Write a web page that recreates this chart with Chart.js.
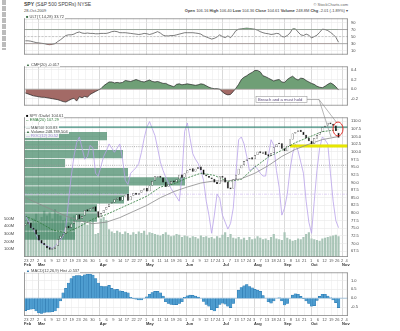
<!DOCTYPE html>
<html>
<head>
<meta charset="utf-8">
<script src="https://cdn.jsdelivr.net/npm/chart.js@4.4.0/dist/chart.umd.min.js"></script>
<style>
  body { margin: 0; width: 400px; height: 331px; position: relative; overflow: hidden; background: #fff;
         font-family: "Liberation Sans", Arial, sans-serif; color: #333; }
  canvas { position: absolute; left: 0; }
  .t { position: absolute; white-space: nowrap; font-size: 4px; line-height: 5px; color: #444; }
  .lg { background: rgba(255,255,255,0.85); padding: 0 1px; }
</style>
</head>
<body>

<div style="position:absolute;left:2px;top:0;width:4px;height:50px;background:repeating-linear-gradient(#bbb 0 5px,#fff 5px 6px)"></div>

<div class="t" style="left:24px;top:2px;font-size:5px"><b>SPY</b> (S&amp;P 500 SPDRs) NYSE</div>
<div class="t" style="left:24px;top:8px">28-Oct-2009</div>
<div class="t" style="right:52px;top:2px;color:#666">© StockCharts.com</div>
<div class="t" style="right:52px;top:8px"><b>Open</b> 106.16 <b>High</b> 106.40 <b>Low</b> 104.36 <b>Close</b> 104.61 <b>Volume</b> 248.8M <b>Chg</b> -2.01 (-1.89%) ▾</div>

<canvas id="ult" width="400" height="47" style="top:13px"></canvas>
<canvas id="cmf" width="400" height="50" style="top:61px"></canvas>
<canvas id="price" width="400" height="155" style="top:112px"></canvas>
<canvas id="macd" width="400" height="59" style="top:267px"></canvas>

<div class="t lg" style="left:25px;top:14px"><span style="color:#3a6e44">■</span> ULT(7,14,28) 33.72</div>
<div class="t lg" style="left:25px;top:62px"><span style="color:#3a6e44">▲</span> CMF(20) -0.017</div>
<div class="t lg" style="left:25px;top:113px"><span style="color:#000">■</span> SPY (Daily) 104.61</div>
<div class="t lg" style="left:25px;top:117px;color:#2d7a3a">-- EMA(20) 107.29</div>
<div class="t lg" style="left:25px;top:125px;color:#555">— MA(50) 103.83</div>
<div class="t lg" style="left:25px;top:129px"><span style="color:#3a6e44">▲</span> Volume 248,789,504</div>
<div class="t lg" style="left:25px;top:133px;color:#9b7fd6">— ROC(12) 20.52</div>
<div class="t lg" style="left:25px;top:268px"><span style="color:#2874ac">▲</span> MACD(12,26,9) Hist -0.537</div>

<svg style="position:absolute;left:0;top:0;z-index:5" width="400" height="331">
  <rect x="256" y="96.5" width="51" height="6" fill="#fff" stroke="#999" stroke-width="0.6"/>
  <text x="258" y="101.3" font-size="4.2" font-family="Liberation Sans, Arial" fill="#5a4a7a">Breach and a must hold</text>
  <polyline points="307,99.5 319,99.5 337,123" fill="none" stroke="#888" stroke-width="0.6"/>
  <line x1="319" y1="99.5" x2="331" y2="137" stroke="#888" stroke-width="0.6"/>
  <ellipse cx="338" cy="129" rx="5" ry="7" fill="none" stroke="#e0201a" stroke-width="0.9"/>
</svg>

<script>
// x axis: one slot per bar, labels below the price and MACD panels
const dayTicks = [[0.3,'23'],[2.5,'27'],[4.7,'2'],[7.2,'6'],[9.7,'9'],[12.2,'12'],[14.7,'17'],[17.2,'19'],[19.7,'23'],[22.2,'26'],[24.9,'30'],
  [27.6,'1'],[30.1,'6'],[32.6,'9'],[35.1,'14'],[37.6,'17'],[40.1,'22'],[42.4,'27'],
  [44.7,'1'],[47.2,'6'],[49.7,'11'],[52.2,'14'],[54.7,'19'],[57.1,'26'],
  [59.5,'1'],[62,'4'],[64.5,'9'],[67,'12'],[69.4,'17'],[71.4,'24'],
  [73.2,'1'],[75.7,'7'],[78.2,'13'],[80.6,'17'],[82.8,'24'],
  [84.7,'3'],[87.1,'7'],[89.5,'13'],[91.9,'18'],[94,'24'],
  [95.8,'1'],[98.3,'8'],[100.8,'14'],[103.3,'21'],
  [105.8,'1'],[108.3,'6'],[110.8,'12'],[113.3,'19'],[115.5,'26'],[117.3,'2'],[119,'4']];
const monthTicks = [[-0.5,'Feb'],[4.7,'Mar'],[27.6,'Apr'],[44.7,'May'],[59.5,'Jun'],[73.2,'Jul'],[84.7,'Aug'],[95.8,'Sep'],[105.8,'Oct'],[117.3,'Nov']];

// price candles
const opens = [75.8,76.4,76.8,75.2,74.6,72.8,71.2,70.2,69.3,68.8,
  68.0,68.3,69.2,71.6,72.4,73.2,75.8,75.2,76.6,77.6,
  79.6,78.2,79.2,81.2,80.6,81.4,82.2,80.6,78.6,80.0,
  81.1,82.0,83.1,83.4,84.4,85.2,84.1,85.4,86.2,84.2,
  85.6,86.6,86.0,86.6,87.4,88.2,87.1,89.0,90.6,91.6,
  92.2,91.6,90.2,88.6,89.4,90.6,90.1,91.0,92.6,91.6,
  93.0,94.0,94.6,93.6,94.4,95.2,94.2,92.6,92.1,91.6,
  91.2,90.1,89.6,92.1,91.6,90.2,88.3,88.0,91.0,92.6,
  94.6,95.6,97.0,97.6,98.2,97.6,99.0,100.2,99.4,100.2,
  99.2,98.6,99.6,101.6,102.6,102.8,101.2,100.2,102.0,104.0,
  106.0,106.6,107.2,106.6,105.6,104.6,103.6,102.6,104.4,105.6,
  106.6,108.0,108.6,109.6,109.2,108.6,106.2];
const closes = [76.5,77.0,75.0,74.5,73.0,71.0,70.0,69.5,68.5,68.0,
  68.5,69.0,71.5,72.5,73.0,75.5,75.0,76.5,77.5,79.5,
  78.0,79.0,81.0,80.5,81.5,82.0,80.5,78.5,80.0,81.0,
  82.0,83.0,83.5,84.5,85.0,84.0,85.5,86.0,84.0,85.5,
  86.5,86.0,86.5,87.5,88.0,87.0,89.0,90.5,92.0,92.0,
  91.5,90.0,88.5,89.5,90.5,90.0,91.0,92.5,91.5,93.0,
  94.0,94.5,93.5,94.5,95.0,94.0,92.5,92.0,91.5,91.0,
  90.0,89.5,92.0,91.5,90.0,88.0,87.8,91.0,92.5,94.5,
  95.5,97.0,97.5,98.0,97.5,99.0,100.0,99.5,100.0,99.0,
  98.5,99.5,101.5,102.5,103.0,101.0,100.2,102.0,104.0,106.0,
  106.5,107.0,106.5,105.5,104.5,103.5,102.5,104.5,105.5,106.5,
  108.0,108.5,109.5,109.0,108.5,106.8,104.6];
// volume, millions of shares
const volumes = [480,520,450,500,560,470,520,600,540,580,
  500,620,560,540,480,500,460,520,540,470,
  500,440,470,420,450,480,300,310,500,520,
  480,360,330,310,340,320,300,330,310,290,
  320,300,330,310,340,290,320,310,300,290,
  280,300,320,290,270,280,300,290,260,280,
  270,250,270,260,240,280,260,270,250,260,
  240,270,250,290,320,260,300,250,240,260,
  230,250,220,260,230,240,270,250,230,240,
  220,260,300,240,230,220,320,250,230,210,
  220,240,230,260,300,320,240,230,220,210,
  240,250,260,270,280,290,270];
// moving averages, read every few bars
const avgSlots = [0,5,10,15,20,25,30,35,40,45,50,55,60,65,70,75,80,85,90,95,100,105,110,116];
const ema20 = [79,77,74.5,73.5,75.5,78,79.5,81.5,83.5,85.5,88.5,89.5,91.5,93,92.3,90.3,91,95,98.3,100.5,103,104.8,106.6,107.3];
const ma50 = [85,83,81,79,77.5,76.5,77,78.5,80.5,82.5,85,87,88.5,89.8,90.5,90.5,91.2,93,95.5,98.5,100.8,102.5,104,105];
// purple oscillator (own scale, 0-100 of the panel height)
const rocValues = [30,26,22,20,16,12,10,9,8,7,
  6,8,10,12,15,22,40,58,72,82,
  86,78,70,72,80,78,60,58,65,72,
  76,81,78,75,78,81,70,55,52,60,
  62,64,67,75,85,93,97,92,87,78,
  68,62,57,53,49,46,43,40,58,90,
  96,85,74,70,67,62,55,40,30,17,
  30,45,42,30,25,20,24,35,60,84,
  86,81,72,62,63,65,63,60,58,58,
  72,84,80,62,50,30,35,45,62,74,
  81,76,68,60,40,25,17,40,62,78,
  86,84,81,60,40,26,21];
// volume by price
const vbpPrices = [108.5,104.95,101.4,97.85,94.3,90.75,87.2,83.65,80.1,76.55,73.0,69.45];
const vbpVolumes = [8.3,7.4,9.9,4.1,10.4,16.1,10.5,10.0,7.3,7.3,5.1,5.1];
// indicators
const ultValues = [38,38,37,35,33,32,31,30,28,27,
  28,30,36,41,47,53,55,55,57,61,
  63,60,59,60,59,59,58,58,59,59,
  59,61,64,65,64,61,61,61,60,59,
  58,57,56,57,59,58,56,58,61,64,
  60,54,52,52,53,53,55,57,59,61,
  61,61,61,60,59,57,52,49,46,43,
  45,49,55,50,47,52,47,56,67,71,
  72,73,74,73,72,71,68,64,61,59,
  58,56,57,59,58,50,49,53,60,72,
  72,63,55,53,57,54,46,50,54,62,
  71,70,67,62,56,48,34];
const cmfValues = [-0.08,-0.10,-0.12,-0.14,-0.15,-0.16,-0.17,-0.17,-0.18,-0.19,
  -0.20,-0.21,-0.22,-0.24,-0.26,-0.27,-0.24,-0.21,-0.19,-0.25,
  -0.16,-0.18,-0.15,-0.17,-0.11,-0.08,-0.05,-0.02,0.01,0.07,
  0.11,0.15,0.15,0.13,0.14,0.13,0.14,0.18,0.17,0.16,
  0.18,0.20,0.18,0.16,0.15,0.17,0.19,0.16,0.15,0.16,
  0.14,0.12,0.12,0.09,0.07,0.05,0.10,0.11,0.09,0.10,
  0.11,0.10,0.09,0.08,0.09,0.11,0.10,0.07,0.04,0.02,
  0.01,0.01,0.00,-0.06,-0.10,-0.12,-0.11,-0.05,0.02,0.10,
  0.20,0.25,0.28,0.32,0.35,0.39,0.39,0.36,0.28,0.26,
  0.23,0.20,0.17,0.19,0.20,0.15,0.14,0.20,0.24,0.27,
  0.22,0.19,0.23,0.22,0.18,0.15,0.12,0.10,0.06,0.04,
  0.03,0.06,0.10,0.13,0.10,0.05,-0.02];
const macdHist = [-0.70,-0.65,-0.62,-0.60,-0.72,-0.82,-0.85,-0.80,-0.78,-0.78,
  -0.76,-0.72,-0.55,-0.15,0.30,0.55,0.85,1.10,1.25,1.27,
  1.27,1.25,1.32,1.35,1.35,1.30,1.10,0.85,0.68,0.65,
  0.66,0.72,0.55,0.48,0.50,0.42,0.38,0.35,0.30,0.05,
  -0.02,-0.06,-0.10,-0.10,0.00,0.08,0.22,0.32,0.38,0.38,
  0.30,0.12,-0.20,-0.30,-0.35,-0.37,-0.36,-0.30,-0.20,0.05,
  0.14,0.17,0.16,0.12,0.06,0.00,-0.18,-0.35,-0.45,-0.65,
  -0.72,-0.53,-0.35,-0.28,-0.33,-0.45,-0.53,-0.30,0.00,0.45,
  0.60,0.70,0.77,0.65,0.58,0.50,0.45,0.38,0.15,0.00,
  -0.20,-0.28,-0.15,0.00,0.02,-0.15,-0.38,-0.30,0.00,0.17,
  0.25,0.22,0.10,-0.02,-0.15,-0.30,-0.45,-0.42,-0.12,0.10,
  0.22,0.22,0.12,0.02,-0.10,-0.25,-0.53];

const ultTicks = [90, 70, 50, 30, 10];
const cmfTicks = [0.4, 0.3, 0.2, 0.1, 0, -0.1, -0.2, -0.3];
const priceTicks = [110, 107.5, 105, 102.5, 100, 97.5, 95, 92.5, 90, 87.5, 85, 82.5, 80, 77.5, 75, 72.5, 70, 67.5];
const volTicks = [100, 200, 300, 400, 500];
const macdTicks = [1, 0.5, 0, -0.5];

const slots = closes.map((_, i) => i);
const xMin = -0.5, xMax = 119.5;
const tickFont = { family: 'Liberation Sans, Arial, sans-serif', size: 4 };
const GREEN = '#6f9f76', RED = '#a36a66';

// grey frame round each panel
Chart.register({
  id: 'frame',
  afterDraw(c) {
    const a = c.chartArea, g = c.ctx;
    g.save();
    g.strokeStyle = '#8a8a8a';
    g.lineWidth = 0.8;
    g.strokeRect(a.left + 0.4, a.top + 0.4, a.right - a.left - 0.8, a.bottom - a.top - 0.8);
    g.restore();
  }
});

function flat(v, from = xMin, to = xMax) {
  return [{ x: from, y: v }, { x: to, y: v }];
}

function xScales(showLabels) {
  return {
    x: {
      type: 'linear', position: 'bottom', min: xMin, max: xMax, offset: false,
      afterBuildTicks: s => { s.ticks = dayTicks.map(t => ({ value: t[0] })); },
      afterFit: s => { s.height = showLabels ? 5 : 0; },
      ticks: { display: showLabels, autoSkip: false, maxRotation: 0, padding: 1, font: tickFont, color: '#555',
               callback: (v, i) => dayTicks[i][1] },
      grid: { color: '#ededed', lineWidth: 0.6, drawTicks: false, offset: false },
      border: { display: false }
    },
    xm: {
      type: 'linear', position: 'bottom', min: xMin, max: xMax, offset: false,
      afterBuildTicks: s => { s.ticks = monthTicks.map(t => ({ value: t[0] })); },
      afterFit: s => { s.height = showLabels ? 5 : 0; },
      ticks: { display: showLabels, autoSkip: false, maxRotation: 0, padding: 0.5, align: 'start',
               font: { ...tickFont, weight: 'bold' }, color: '#333', callback: (v, i) => monthTicks[i][1] },
      grid: { color: '#d0d0d0', lineWidth: 0.7, drawTicks: false, offset: false },
      border: { display: false }
    }
  };
}

function rightAxis(min, max, ticks, fmt) {
  return {
    type: 'linear', position: 'right', min, max,
    afterBuildTicks: s => { s.ticks = ticks.map(v => ({ value: v })); },
    afterFit: s => { s.width = 52; },
    ticks: { font: tickFont, color: '#444', padding: 3, callback: fmt },
    grid: { color: '#e8e8e8', lineWidth: 0.6, drawTicks: false },
    border: { display: false }
  };
}

function options(scales, showX, padLeft) {
  return {
    responsive: false, animation: false, events: [],
    layout: { padding: { left: padLeft, right: 0, top: 0, bottom: 0 }, autoPadding: false },
    plugins: { legend: { display: false }, tooltip: { enabled: false } },
    elements: { point: { radius: 0 }, line: { tension: 0 } },
    scales: { ...xScales(showX), ...scales }
  };
}

// ULT panel
new Chart(document.getElementById('ult'), {
  type: 'line',
  data: {
    labels: slots,
    datasets: [
      { data: ultValues, borderWidth: 0, fill: { target: { value: 70 }, above: GREEN, below: 'rgba(0,0,0,0)' } },
      { data: ultValues, borderWidth: 0, fill: { target: { value: 30 }, above: 'rgba(0,0,0,0)', below: RED } },
      { data: flat(70), borderColor: '#8a8a8a', borderWidth: 0.7 },
      { data: flat(50), borderColor: '#aaa', borderWidth: 0.6, borderDash: [2, 1.5] },
      { data: flat(30), borderColor: '#8a8a8a', borderWidth: 0.7 },
      { data: ultValues, borderColor: '#444', borderWidth: 0.7, fill: false }
    ]
  },
  options: options({ y: rightAxis(-1, 101.5, ultTicks, v => v) }, false, 24)
});

// CMF panel
new Chart(document.getElementById('cmf'), {
  type: 'line',
  data: {
    labels: slots,
    datasets: [
      { data: flat(0), borderColor: '#999', borderWidth: 0.6 },
      { data: cmfValues, borderColor: '#222', borderWidth: 0.7,
        fill: { target: { value: 0 }, above: GREEN, below: RED } }
    ]
  },
  options: options({ y: rightAxis(-0.344, 0.475, cmfTicks, v => v.toFixed(1)) }, false, 24)
});

// price panel
const priceMin = 65.61, priceMax = 111.26;
const priceOpts = options({
  y: rightAxis(priceMin, priceMax, priceTicks, v => v.toFixed(1)),
  yv: { type: 'linear', display: false, min: priceMin, max: priceMax },
  xv: { type: 'linear', display: false, min: 0, max: 32.4, offset: false },
  yOsc: { type: 'linear', display: false, min: 0, max: 100 },
  yVol: {
    type: 'linear', position: 'left', min: 0, max: 1812,
    afterBuildTicks: s => { s.ticks = volTicks.map(v => ({ value: v })); },
    afterFit: s => { s.width = 24; },
    ticks: { font: tickFont, color: '#444', padding: 2, callback: v => v + 'M' },
    grid: { display: false },
    border: { display: false }
  }
}, true, 0);

new Chart(document.getElementById('price'), {
  type: 'bar',
  data: {
    labels: slots,
    datasets: [
      { type: 'bar', data: volumes, yAxisID: 'yVol', backgroundColor: '#a9c5b7',
        barPercentage: 0.8, categoryPercentage: 1, grouped: false, order: 7 },
      { type: 'bar', indexAxis: 'y', xAxisID: 'xv', yAxisID: 'yv',
        data: vbpPrices.map((p, i) => ({ x: vbpVolumes[i], y: p })),
        backgroundColor: 'rgba(62,132,98,0.7)', barPercentage: 0.92, categoryPercentage: 1,
        grouped: false, order: 6 },
      { type: 'line', data: flat(45), yAxisID: 'yOsc', borderColor: '#c9b6ee', borderWidth: 0.6,
        borderDash: [3, 1, 1, 1], order: 5 },
      { type: 'line', data: flat(101.7), borderColor: '#999', borderWidth: 0.8, borderDash: [1, 1.2], order: 5 },
      { type: 'line', data: flat(95.6), borderColor: '#999', borderWidth: 0.8, borderDash: [1, 1.2], order: 5 },
      { type: 'line', data: rocValues, yAxisID: 'yOsc', borderColor: '#b9a2ea', borderWidth: 0.8, order: 4 },
      { type: 'line', data: flat(108.1), borderColor: '#3d8a7a', borderWidth: 1.3, order: 3 },
      { type: 'line', data: flat(101.9, 98, xMax), borderColor: '#e6e600', borderWidth: 3, order: 3 },
      { type: 'line', data: avgSlots.map((s, i) => ({ x: s, y: ma50[i] })), borderColor: '#8c8c8c', borderWidth: 0.8, order: 2 },
      { type: 'line', data: avgSlots.map((s, i) => ({ x: s, y: ema20[i] })), borderColor: '#2d7a3a', borderWidth: 0.8,
        borderDash: [2, 1.2], order: 2 },
      { type: 'bar', data: opens.map((o, i) => [o, closes[i]]), yAxisID: 'y',
        backgroundColor: ctx => closes[ctx.dataIndex] >= opens[ctx.dataIndex] ? '#fff' : '#000',
        borderColor: '#111', borderWidth: 0.5, borderSkipped: false,
        barPercentage: 0.75, categoryPercentage: 1, grouped: false, order: 1 }
    ]
  },
  options: priceOpts
});

// MACD panel
new Chart(document.getElementById('macd'), {
  type: 'bar',
  data: {
    labels: slots,
    datasets: [
      { type: 'line', data: flat(0), borderColor: '#7aa9cc', borderWidth: 0.6, pointRadius: 0, order: 2 },
      { type: 'bar', data: macdHist, backgroundColor: '#4e9dd0', borderColor: '#2470a8', borderWidth: 0.4,
        barPercentage: 1, categoryPercentage: 1, order: 1 }
    ]
  },
  options: options({ y: rightAxis(-1.0, 1.45, macdTicks, v => v.toFixed(1)) }, true, 24)
});
</script>
</body>
</html>
